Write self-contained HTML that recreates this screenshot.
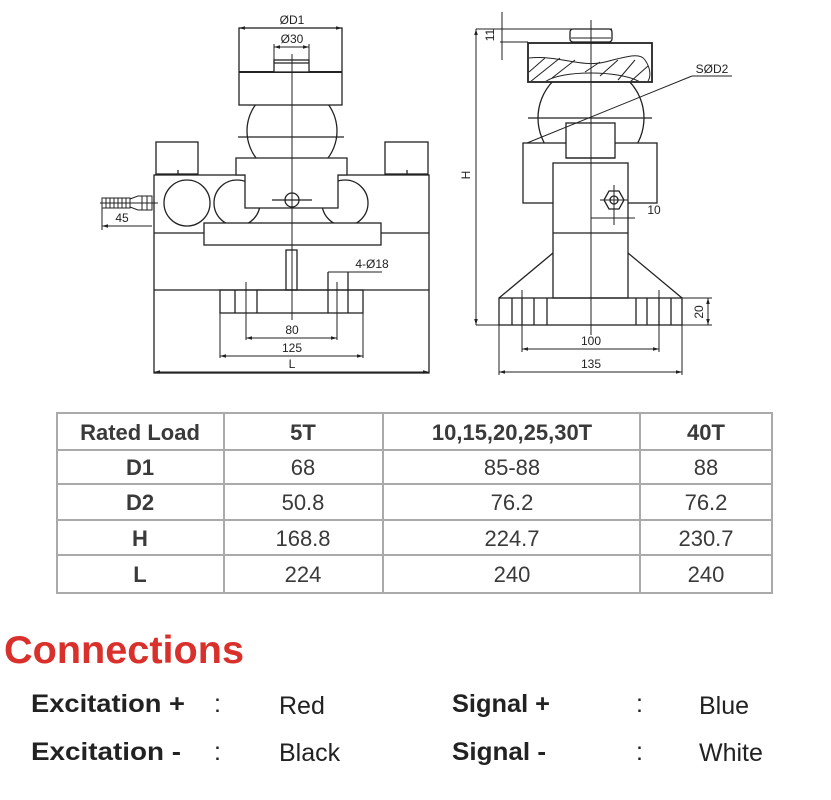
<!DOCTYPE html>
<html><head><meta charset="utf-8"><style>
html,body{margin:0;padding:0;background:#fff;}
body{width:831px;height:800px;overflow:hidden;position:relative;font-family:"Liberation Sans",sans-serif;}
svg{position:absolute;left:0;top:0;}
.t{position:absolute;white-space:nowrap;color:#333;}
</style></head><body>
<svg width="831" height="800" viewBox="0 0 831 800">
<defs>
<marker id="a" viewBox="0 0 10 10" refX="10" refY="5" markerWidth="6" markerHeight="6" orient="auto-start-reverse"><path d="M0,2 L10,5 L0,8z" fill="#222"/></marker>
<clipPath id="capc"><rect x="529" y="44" width="122" height="37"/></clipPath>
</defs>
<g fill="none" stroke="#222" stroke-width="1.3" font-family="Liberation Sans, sans-serif">
<!-- LEFT DRAWING -->
<circle cx="292" cy="131" r="45"/>
<line x1="238" y1="137" x2="344" y2="137"/>
<rect x="239" y="28" width="103" height="77" fill="#fff"/>
<line x1="239" y1="72" x2="342" y2="72" stroke-width="2"/>
<rect x="274" y="60" width="35" height="12" fill="#fff"/>
<line x1="274" y1="63" x2="309" y2="63"/>
<line x1="274" y1="44" x2="274" y2="60" stroke-width="1"/>
<line x1="309" y1="44" x2="309" y2="60" stroke-width="1"/>
<line x1="239" y1="28" x2="342" y2="28" stroke-width="1" marker-start="url(#a)" marker-end="url(#a)"/>
<line x1="274" y1="47" x2="309" y2="47" stroke-width="1" marker-start="url(#a)" marker-end="url(#a)"/>
<rect x="156" y="142" width="42" height="32"/>
<rect x="385" y="142" width="43" height="32"/>
<line x1="178" y1="170" x2="178" y2="175"/><line x1="407" y1="170" x2="407" y2="175"/>
<rect x="154" y="175" width="275" height="198"/>
<line x1="154" y1="233" x2="429" y2="233"/>
<line x1="154" y1="290" x2="429" y2="290"/>
<circle cx="187" cy="203" r="23"/>
<circle cx="237" cy="203" r="23"/>
<circle cx="345" cy="203" r="23"/>
<polygon points="236,158 347,158 347,175 338,175 338,208 245,208 245,175 236,175" fill="#fff"/>
<rect x="204" y="223" width="177" height="22" fill="#fff"/>
<circle cx="292" cy="200" r="7"/>
<line x1="272" y1="200" x2="312" y2="200"/>
<rect x="286" y="250" width="11" height="40"/>
<rect x="220" y="290" width="143" height="23"/>
<line x1="235" y1="290" x2="235" y2="313"/><line x1="257" y1="290" x2="257" y2="313"/>
<line x1="328" y1="272" x2="328" y2="313"/><line x1="348" y1="272" x2="348" y2="313"/>
<line x1="292" y1="54" x2="292" y2="320" stroke-width="1"/>
<line x1="246" y1="282" x2="246" y2="340" stroke-width="1"/>
<line x1="337" y1="282" x2="337" y2="340" stroke-width="1"/>
<line x1="246" y1="338" x2="337" y2="338" stroke-width="1" marker-start="url(#a)" marker-end="url(#a)"/>
<line x1="220" y1="313" x2="220" y2="358" stroke-width="1"/><line x1="363" y1="313" x2="363" y2="358" stroke-width="1"/>
<line x1="220" y1="356" x2="363" y2="356" stroke-width="1" marker-start="url(#a)" marker-end="url(#a)"/>
<line x1="154" y1="372" x2="429" y2="372" stroke-width="1" marker-start="url(#a)" marker-end="url(#a)"/>
<line x1="328" y1="272" x2="382" y2="272" stroke-width="1"/>
<!-- cable -->
<rect x="102" y="198" width="28" height="10" stroke-width="1"/>
<path d="M106,198v10M110,198v10M114,198v10M118,198v10M122,198v10M126,198v10" stroke-width="1"/>
<path d="M130,199 L138,196 L152,196 L152,210 L138,210 L130,207z" stroke-width="1"/>
<path d="M142,196v14M147,196v14" stroke-width="1"/>
<line x1="100" y1="203" x2="158" y2="203" stroke-width="1"/>
<line x1="102" y1="208" x2="102" y2="230" stroke-width="1"/>
<line x1="102" y1="226" x2="152" y2="226" stroke-width="1" marker-start="url(#a)"/>
<!-- RIGHT DRAWING -->
<circle cx="591" cy="118" r="53"/>
<line x1="528" y1="118" x2="652" y2="118"/>
<rect x="528" y="43" width="124" height="39" fill="#fff" stroke-width="1.8"/>
<g clip-path="url(#capc)" stroke-width="1">
<path d="M529,58 C560,55 580,68 605,62 C625,57 640,52 645,60 C652,70 650,78 648,81"/>
<path d="M545,82 C560,70 620,70 640,82"/>
<path d="M529,72 L545,58 M530,82 L560,58 M552,78 L575,60 M585,72 L600,62 M600,76 L618,60 M618,80 L635,60 M630,82 L648,66"/>
</g>
<rect x="570" y="29" width="42" height="13" rx="3" fill="#fff"/>
<line x1="571" y1="38" x2="611" y2="38" stroke-width="1"/>
<rect x="523" y="143" width="134" height="60" fill="#fff"/>
<rect x="566" y="123" width="49" height="35" fill="#fff"/>
<rect x="553" y="163" width="75" height="135" fill="#fff"/>
<line x1="566" y1="158" x2="615" y2="158"/>
<line x1="553" y1="233" x2="628" y2="233"/>
<polygon points="609,191 619,191 624,200 619,209 609,209 604,200" fill="#fff"/>
<circle cx="614" cy="200" r="4"/>
<line x1="614" y1="185" x2="614" y2="225" stroke-width="1"/>
<line x1="600" y1="200" x2="628" y2="200" stroke-width="1"/>
<line x1="591" y1="218" x2="635" y2="218" stroke-width="1"/>
<line x1="553" y1="253" x2="499" y2="298"/><line x1="628" y1="253" x2="682" y2="298"/>
<rect x="499" y="298" width="183" height="27"/>
<path d="M512,298v27M522,298v27M534,298v27M547,298v27M636,298v27M647,298v27M659,298v27M671,298v27"/>
<line x1="591" y1="20" x2="591" y2="335" stroke-width="1"/>
<line x1="527" y1="143" x2="692" y2="76" stroke-width="1"/>
<line x1="692" y1="76" x2="732" y2="76" stroke-width="1"/>
<line x1="476" y1="29" x2="612" y2="29" stroke-width="1"/>
<line x1="500" y1="42" x2="528" y2="42" stroke-width="1"/>
<line x1="502" y1="12" x2="502" y2="60" stroke-width="1"/>
<line x1="476" y1="29" x2="476" y2="325" stroke-width="1" marker-start="url(#a)" marker-end="url(#a)"/>
<line x1="476" y1="325" x2="499" y2="325" stroke-width="1"/>
<line x1="682" y1="298" x2="712" y2="298" stroke-width="1"/>
<line x1="682" y1="325" x2="712" y2="325" stroke-width="1"/>
<line x1="708" y1="298" x2="708" y2="325" stroke-width="1" marker-start="url(#a)" marker-end="url(#a)"/>
<line x1="522" y1="290" x2="522" y2="352" stroke-width="1"/><line x1="659" y1="290" x2="659" y2="352" stroke-width="1"/>
<line x1="522" y1="349" x2="659" y2="349" stroke-width="1" marker-start="url(#a)" marker-end="url(#a)"/>
<line x1="499" y1="325" x2="499" y2="375" stroke-width="1"/><line x1="682" y1="325" x2="682" y2="375" stroke-width="1"/>
<line x1="499" y1="372" x2="682" y2="372" stroke-width="1" marker-start="url(#a)" marker-end="url(#a)"/>
</g>
<g font-family="Liberation Sans, sans-serif" font-size="12" fill="#222" text-anchor="middle">
<text x="292" y="24">ØD1</text>
<text x="292" y="43">Ø30</text>
<text x="292" y="334">80</text>
<text x="292" y="352">125</text>
<text x="292" y="368">L</text>
<text x="372" y="268">4-Ø18</text>
<text x="122" y="222">45</text>
<text x="712" y="73">SØD2</text>
<text x="654" y="214">10</text>
<text x="591" y="345">100</text>
<text x="591" y="368">135</text>
<text transform="translate(494,35) rotate(-90)">11</text>
<text transform="translate(470,175) rotate(-90)">H</text>
<text transform="translate(703,312) rotate(-90)">20</text>
</g>
<!-- TABLE -->
<g stroke="#aaa" stroke-width="2" fill="none">
<rect x="57" y="413" width="715" height="180"/>
<path d="M57,450H772M57,484H772M57,520H772M57,555H772M224,413V593M383,413V593M640,413V593"/>
</g>
<g font-family="Liberation Sans, sans-serif" font-size="22" fill="#3a3a3a" text-anchor="middle">
<g font-weight="bold">
<text x="140" y="440" font-weight="normal" style="font-weight:600">Rated Load</text>
<text x="303" y="440">5T</text><text x="512" y="440">10,15,20,25,30T</text><text x="706" y="440">40T</text>
<text x="140" y="475">D1</text><text x="140" y="510">D2</text><text x="140" y="546">H</text><text x="140" y="582">L</text>
</g>
<text x="303" y="475">68</text><text x="512" y="475">85-88</text><text x="706" y="475">88</text>
<text x="303" y="510">50.8</text><text x="512" y="510">76.2</text><text x="706" y="510">76.2</text>
<text x="303" y="546">168.8</text><text x="512" y="546">224.7</text><text x="706" y="546">230.7</text>
<text x="303" y="582">224</text><text x="512" y="582">240</text><text x="706" y="582">240</text>
</g>
<!-- CONNECTIONS -->
<text x="4" y="663" font-family="Liberation Sans, sans-serif" font-size="39" font-weight="bold" fill="#d9302b" textLength="240" lengthAdjust="spacingAndGlyphs">Connections</text>
<g font-family="Liberation Sans, sans-serif" font-size="25" fill="#222">
<g font-weight="bold">
<text x="31" y="712" textLength="154" lengthAdjust="spacingAndGlyphs">Excitation +</text>
<text x="31" y="760" textLength="150" lengthAdjust="spacingAndGlyphs">Excitation -</text>
<text x="452" y="712" textLength="98" lengthAdjust="spacingAndGlyphs">Signal +</text>
<text x="452" y="760" textLength="94" lengthAdjust="spacingAndGlyphs">Signal -</text>
</g>
<text x="214" y="712">:</text><text x="214" y="760">:</text>
<text x="636" y="712">:</text><text x="636" y="760">:</text>
<text x="279" y="714">Red</text><text x="279" y="761">Black</text>
<text x="699" y="714">Blue</text><text x="699" y="761">White</text>
</g>
</svg>
</body></html>
